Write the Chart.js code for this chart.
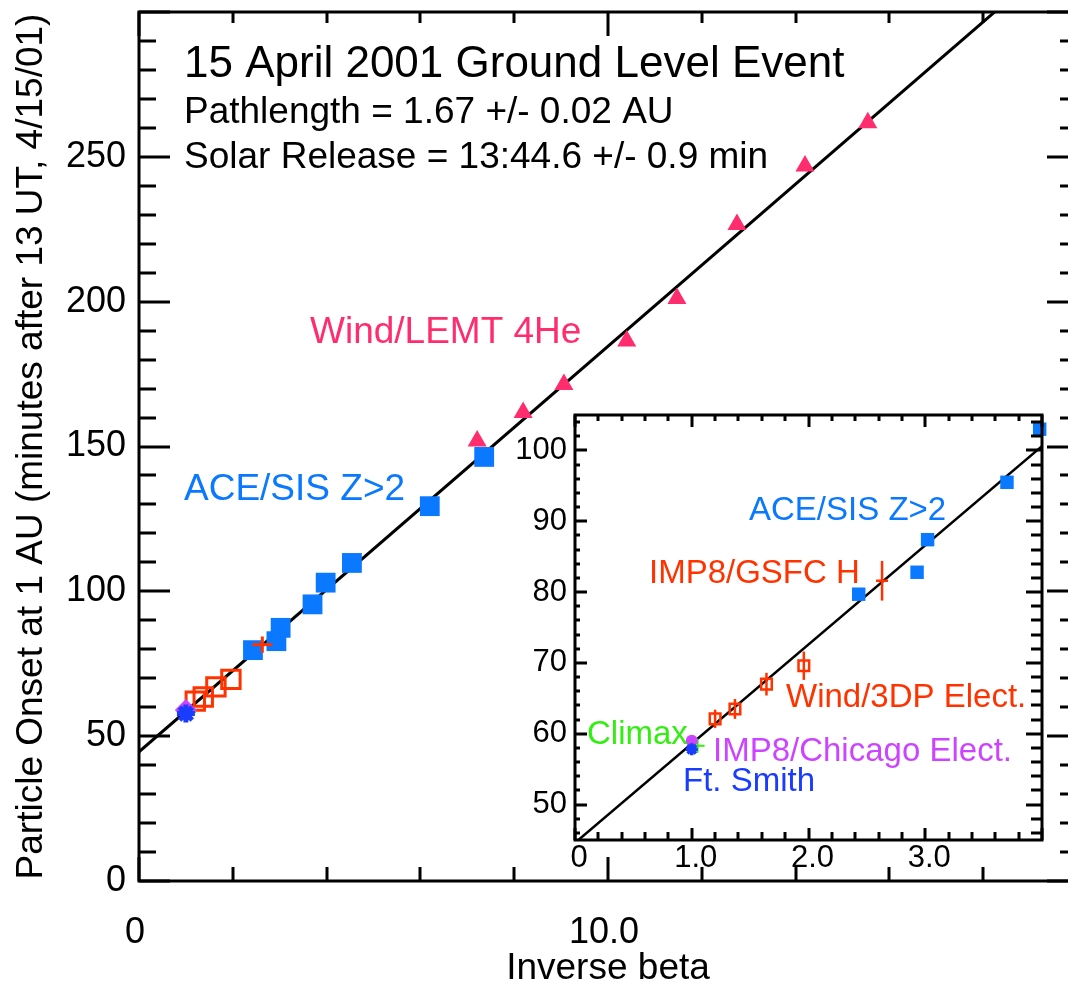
<!DOCTYPE html>
<html>
<head>
<meta charset="utf-8">
<script src="https://cdn.jsdelivr.net/npm/chart.js@4.4.1/dist/chart.umd.min.js"></script>
<style>
html,body{margin:0;padding:0;background:#fff;overflow:hidden;width:1068px;height:991px;}
#wrap{position:relative;width:1068px;height:991px;overflow:hidden;background:#fff;}
#main{position:absolute;left:0;top:0;}
#inset{position:absolute;left:490px;top:395px;}
</style>
</head>
<body>
<div id="wrap">
<canvas id="main" width="1080" height="991"></canvas>
<canvas id="inset" width="570" height="500"></canvas>
</div>
<script>
// ---------------- data ----------------
const fitX = [0, 20];
const fitY = [44.6, 324.6];

const lemtX = [7.21, 8.19, 9.06, 10.40, 11.47, 12.75, 14.20, 15.54];
const lemtY = [151.9, 161.7, 171.4, 186.4, 201.1, 226.6, 246.8, 261.8];

const aceX = [2.43, 2.93, 3.02, 3.70, 3.98, 4.54, 6.20, 7.36];
const aceY = [79.7, 82.8, 87.4, 95.5, 103.0, 109.8, 129.4, 146.4];

const wind3dpX = [1.20, 1.37, 1.64, 1.96];
const wind3dpY = [62.1, 63.5, 67.0, 69.6];
const wind3dpErr = [1.3, 1.4, 1.6, 2.0];

const gsfcX = [2.63];
const gsfcY = [81.6];
const gsfcErr = [2.8];

const climaxX = [1.05];
const climaxY = [58.3];
const chicagoX = [1.00];
const chicagoY = [59.0];
const ftSmithX = [1.00];
const ftSmithY = [57.8];

const mainXTicks = [0, 10];
const mainXTickLabels = ['0', '10.0'];
const mainYTicks = [0, 50, 100, 150, 200, 250];
const mainYTickLabels = ['0', '50', '100', '150', '200', '250'];

const insetXTicks = [0, 1, 2, 3];
const insetXTickLabels = ['0', '1.0', '2.0', '3.0'];
const insetYTicks = [50, 60, 70, 80, 90, 100];
const insetYTickLabels = ['50', '60', '70', '80', '90', '100'];

// ---------------- helpers ----------------
const FONT = 'Liberation Sans, Arial, Helvetica, sans-serif';
const PINK = '#ff2d6e', ACE = '#0a78ff', RED = '#ff3300', GREEN = '#33ee11', PURPLE = '#cc44ff', FTBLUE = '#1a3cff';

function pts(xs, ys) { return xs.map((x, i) => ({x: x, y: ys[i]})); }

function errBars(xs, ys, es, color, width, order) {
  return xs.map((x, i) => ({
    data: [{x: x, y: ys[i] - es[i]}, {x: x, y: ys[i] + es[i]}],
    showLine: true, borderColor: color, borderWidth: width,
    pointRadius: 0, order: order
  }));
}

function genTicks(min, max, step) {
  const out = [];
  const start = Math.ceil(min / step - 1e-9);
  const end = Math.floor(max / step + 1e-9);
  for (let k = start; k <= end; k++) out.push(k * step);
  return out;
}
function isMajor(v, major) { return Math.abs(v / major - Math.round(v / major)) < 1e-6; }

const framePlugin = {
  id: 'frameTicks',
  afterDraw(chart, args, o) {
    const ctx = chart.ctx, ca = chart.chartArea;
    const xs = chart.scales.x, ys = chart.scales.y;
    ctx.save();
    ctx.strokeStyle = '#000';
    ctx.lineWidth = o.lineWidth;
    ctx.lineCap = 'butt';
    ctx.beginPath();
    ctx.rect(ca.left, ca.top, ca.right - ca.left, ca.bottom - ca.top);
    ctx.stroke();
    ctx.beginPath();
    genTicks(xs.min, xs.max, o.xMinor).forEach(v => {
      const p = Math.round(xs.getPixelForValue(v));
      const m = isMajor(v, o.xMajor);
      const lb = m ? o.len.bottom[1] : o.len.bottom[0];
      const lt = m ? o.len.top[1] : o.len.top[0];
      ctx.moveTo(p, ca.bottom); ctx.lineTo(p, ca.bottom - lb);
      ctx.moveTo(p, ca.top); ctx.lineTo(p, ca.top + lt);
    });
    genTicks(ys.min, ys.max, o.yMinor).forEach(v => {
      const p = Math.round(ys.getPixelForValue(v));
      const m = isMajor(v, o.yMajor);
      const ll = m ? o.len.left[1] : o.len.left[0];
      const lr = m ? o.len.right[1] : o.len.right[0];
      ctx.moveTo(ca.left, p); ctx.lineTo(ca.left + ll, p);
      ctx.moveTo(ca.right, p); ctx.lineTo(ca.right - lr, p);
    });
    ctx.stroke();
    (o.texts || []).forEach(t => {
      ctx.font = t.size + 'px ' + FONT;
      ctx.fillStyle = t.color;
      ctx.textAlign = 'left';
      ctx.textBaseline = 'alphabetic';
      ctx.fillText(t.text, t.x, t.y);
    });
    ctx.restore();
  }
};

function fixedAxis(prop, size) {
  return function (s) {
    s[prop] = size;
    s.paddingLeft = 0; s.paddingRight = 0; s.paddingTop = 0; s.paddingBottom = 0;
  };
}

// ---------------- main chart ----------------
const mainDatasets = [
  {label: 'IMP8/GSFC H', data: pts(gsfcX, gsfcY), pointStyle: 'line', pointRadius: 10,
   borderColor: RED, backgroundColor: RED, pointBorderWidth: 3, order: -2},
  ...errBars(gsfcX, gsfcY, gsfcErr, RED, 3, -2),
  {label: 'Ft. Smith', data: pts(ftSmithX, ftSmithY), pointStyle: 'star', pointRadius: 9,
   borderColor: FTBLUE, backgroundColor: FTBLUE, pointBorderWidth: 5, order: 0},
  {label: 'IMP8/Chicago Elect.', data: pts(chicagoX, chicagoY), pointStyle: 'rectRot', pointRadius: 11,
   borderColor: PURPLE, backgroundColor: PURPLE, pointBorderWidth: 0, order: 1},
  {label: 'Climax', data: pts(climaxX, climaxY), pointStyle: 'cross', pointRadius: 8,
   borderColor: GREEN, backgroundColor: GREEN, pointBorderWidth: 2, order: 2},
  {label: 'ACE/SIS Z>2', data: pts(aceX, aceY), pointStyle: 'rect', pointRadius: 14,
   borderColor: ACE, backgroundColor: ACE, pointBorderWidth: 0, order: 3},
  {label: 'Wind/LEMT 4He', data: pts(lemtX, lemtY), pointStyle: 'triangle', pointRadius: 11,
   borderColor: PINK, backgroundColor: PINK, pointBorderWidth: 0, order: 3},
  {label: 'Wind/3DP Elect.', data: pts(wind3dpX, wind3dpY), pointStyle: 'rect', pointRadius: 13,
   borderColor: RED, backgroundColor: 'rgba(0,0,0,0)', pointBorderWidth: 3, order: 4},
  {label: 'fit', data: pts(fitX, fitY), showLine: true, borderColor: '#000', borderWidth: 3,
   pointRadius: 0, order: 100}
];

new Chart(document.getElementById('main'), {
  type: 'scatter',
  data: {datasets: mainDatasets},
  options: {
    responsive: false, animation: false, devicePixelRatio: 1, events: [],
    layout: {autoPadding: false, padding: {top: 12, right: 3, left: 0, bottom: 0}},
    plugins: {
      legend: {display: false}, tooltip: {enabled: false},
      frameTicks: {
        lineWidth: 3, xMinor: 2, xMajor: 10, yMinor: 10, yMajor: 50,
        len: {bottom: [14, 24], top: [11, 24], left: [17, 31], right: [17, 30]},
        texts: [
          {text: '15 April 2001 Ground Level Event', x: 184, y: 77, size: 44, color: '#000'},
          {text: 'Pathlength = 1.67 +/- 0.02 AU', x: 184, y: 123, size: 37, color: '#000'},
          {text: 'Solar Release = 13:44.6 +/- 0.9 min', x: 184, y: 168, size: 37, color: '#000'},
          {text: 'Wind/LEMT 4He', x: 310, y: 343, size: 37, color: PINK},
          {text: 'ACE/SIS Z>2', x: 184, y: 500, size: 37, color: ACE}
        ]
      }
    },
    scales: {
      x: {
        type: 'linear', position: 'bottom', min: 0, max: 20,
        afterBuildTicks: s => { s.ticks = mainXTicks.map(v => ({value: v})); },
        afterFit: fixedAxis('height', 110),
        grid: {display: false, drawTicks: false}, border: {display: false},
        ticks: {autoSkip: false, maxRotation: 0, padding: 30, labelOffset: -4, color: '#000',
          font: {family: FONT, size: 36, lineHeight: 1.2},
          callback: v => { const i = mainXTicks.indexOf(v); return i < 0 ? '' : mainXTickLabels[i]; }},
        title: {display: true, text: 'Inverse beta', color: '#000',
          font: {family: FONT, size: 37, lineHeight: 1.2}, padding: {top: 0, bottom: 0}}
      },
      y: {
        type: 'linear', position: 'left', min: 0, max: 300,
        afterBuildTicks: s => { s.ticks = mainYTicks.map(v => ({value: v})); },
        afterFit: fixedAxis('width', 139),
        grid: {display: false, drawTicks: false}, border: {display: false},
        ticks: {autoSkip: false, padding: 13, color: '#000',
          font: {family: FONT, size: 36, lineHeight: 1.2},
          callback: v => { const i = mainYTicks.indexOf(v); return i < 0 ? '' : mainYTickLabels[i]; }},
        title: {display: true, text: 'Particle Onset at 1 AU (minutes after 13 UT, 4/15/01)', color: '#000',
          font: {family: FONT, size: 37, lineHeight: 1.2}, padding: {top: 10, bottom: 0}}
      }
    }
  },
  plugins: [framePlugin]
});

// ---------------- inset chart ----------------
const insetClip = {left: 10, top: 10, right: 20, bottom: 10};
const insetDatasets = [
  {label: 'Ft. Smith', data: pts(ftSmithX, ftSmithY), pointStyle: 'star', pointRadius: 6,
   borderColor: FTBLUE, backgroundColor: FTBLUE, pointBorderWidth: 3.5, order: 0},
  {label: 'IMP8/Chicago Elect.', data: pts(chicagoX, chicagoY), pointStyle: 'circle', pointRadius: 6,
   borderColor: PURPLE, backgroundColor: PURPLE, pointBorderWidth: 0, order: 1},
  {label: 'Climax', data: pts(climaxX, climaxY), pointStyle: 'cross', pointRadius: 7,
   borderColor: GREEN, backgroundColor: GREEN, pointBorderWidth: 2, order: 2},
  {label: 'ACE/SIS Z>2', data: pts(aceX, aceY), pointStyle: 'rect', pointRadius: 9.5,
   borderColor: ACE, backgroundColor: ACE, pointBorderWidth: 0, order: 3, clip: insetClip},
  {label: 'IMP8/GSFC H', data: pts(gsfcX, gsfcY), pointStyle: 'line', pointRadius: 6,
   borderColor: RED, backgroundColor: RED, pointBorderWidth: 2.5, order: 4},
  {label: 'Wind/3DP Elect.', data: pts(wind3dpX, wind3dpY), pointStyle: 'rect', pointRadius: 7.5,
   borderColor: RED, backgroundColor: 'rgba(0,0,0,0)', pointBorderWidth: 2.5, order: 4},
  ...errBars(gsfcX, gsfcY, gsfcErr, RED, 2.5, 5),
  ...errBars(wind3dpX, wind3dpY, wind3dpErr, RED, 2.5, 5),
  {label: 'fit', data: pts(fitX, fitY), showLine: true, borderColor: '#000', borderWidth: 2.5,
   pointRadius: 0, order: 100}
];

new Chart(document.getElementById('inset'), {
  type: 'scatter',
  data: {datasets: insetDatasets},
  options: {
    responsive: false, animation: false, devicePixelRatio: 1, events: [],
    layout: {autoPadding: false, padding: {top: 20, right: 18, left: 0, bottom: 0}},
    plugins: {
      legend: {display: false}, tooltip: {enabled: false},
      frameTicks: {
        lineWidth: 3, xMinor: 0.2, xMajor: 1, yMinor: 2, yMajor: 10,
        len: {bottom: [8, 12], top: [6, 12], left: [5, 12], right: [11, 16]},
        texts: [
          {text: 'ACE/SIS Z>2', x: 259, y: 125, size: 33, color: ACE},
          {text: 'IMP8/GSFC H', x: 159, y: 188, size: 33, color: RED},
          {text: 'Wind/3DP Elect.', x: 296, y: 312, size: 33, color: RED},
          {text: 'Climax', x: 97, y: 349, size: 33, color: GREEN},
          {text: 'IMP8/Chicago Elect.', x: 223, y: 366, size: 33, color: PURPLE},
          {text: 'Ft. Smith', x: 193, y: 396, size: 33, color: FTBLUE}
        ]
      }
    },
    scales: {
      x: {
        type: 'linear', position: 'bottom', min: 0, max: 4,
        afterBuildTicks: s => { s.ticks = insetXTicks.map(v => ({value: v})); },
        afterFit: fixedAxis('height', 55),
        grid: {display: false, drawTicks: false}, border: {display: false},
        ticks: {autoSkip: false, maxRotation: 0, padding: 0, labelOffset: 4, color: '#000',
          font: {family: FONT, size: 31, lineHeight: 1.2},
          callback: v => { const i = insetXTicks.indexOf(v); return i < 0 ? '' : insetXTickLabels[i]; }}
      },
      y: {
        type: 'linear', position: 'left', min: 45, max: 105,
        afterBuildTicks: s => { s.ticks = insetYTicks.map(v => ({value: v})); },
        afterFit: fixedAxis('width', 85),
        grid: {display: false, drawTicks: false}, border: {display: false},
        ticks: {autoSkip: false, padding: 8, color: '#000',
          font: {family: FONT, size: 31, lineHeight: 1.2},
          callback: v => { const i = insetYTicks.indexOf(v); return i < 0 ? '' : insetYTickLabels[i]; }}
      }
    }
  },
  plugins: [framePlugin]
});
</script>
</body>
</html>
